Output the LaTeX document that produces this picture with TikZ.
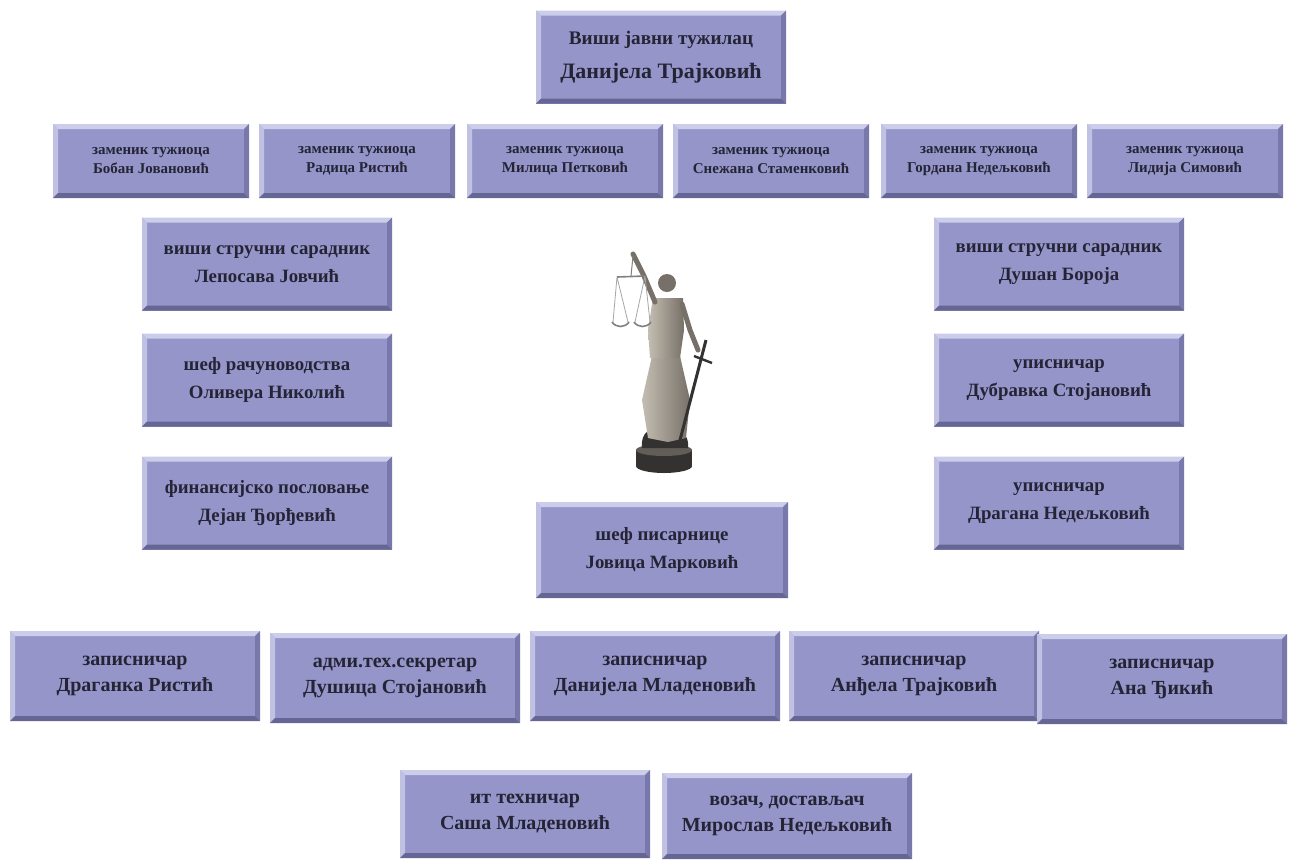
\documentclass[tikz,border=0pt]{standalone}
\usepackage{fontspec}
\setmainfont{Liberation Serif}
\definecolor{boxfill}{RGB}{149,149,201}
\definecolor{boxlight}{RGB}{204,204,235}
\definecolor{boxside}{RGB}{120,120,170}
\definecolor{boxdark}{RGB}{102,102,148}
\definecolor{boxtext}{RGB}{36,36,54}
\definecolor{statuedark}{RGB}{52,50,48}
\definecolor{statuemid}{RGB}{118,112,104}
\definecolor{statuelight}{RGB}{196,190,178}
\tikzset{
  bevbox/.style={fill=boxfill, text=boxtext, align=center, inner sep=0pt,
    font=\bfseries\fontsize{10}{13}\selectfont,
    minimum width=125pt, minimum height=46.5pt,
    path picture={
      \path (path picture bounding box.north west) coordinate (pnw)
            (path picture bounding box.north east) coordinate (pne)
            (path picture bounding box.south west) coordinate (psw)
            (path picture bounding box.south east) coordinate (pse);
      \fill[boxlight] (pnw) -- (pne) -- ([shift={(-2.5pt,-2.5pt)}]pne) -- ([shift={(2.5pt,-2.5pt)}]pnw) -- cycle;
      \fill[boxlight!80!boxfill] (pnw) -- ([shift={(2.5pt,-2.5pt)}]pnw) -- ([shift={(2.5pt,2.5pt)}]psw) -- (psw) -- cycle;
      \fill[boxside] (pne) -- (pse) -- ([shift={(-2.5pt,2.5pt)}]pse) -- ([shift={(-2.5pt,-2.5pt)}]pne) -- cycle;
      \fill[boxdark] (psw) -- (pse) -- ([shift={(-2.5pt,2.5pt)}]pse) -- ([shift={(2.5pt,2.5pt)}]psw) -- cycle;
    }},
  chiefbox/.style={bevbox, font=\bfseries\fontsize{11}{17}\selectfont},
  colbox/.style={bevbox, font=\bfseries\fontsize{9.4}{14}\selectfont},
  depbox/.style={bevbox, font=\bfseries\fontsize{7.5}{9.5}\selectfont,
    minimum width=98pt, minimum height=37pt},
  clkbox/.style={bevbox, minimum height=45pt}
}
\begin{document}
\begin{tikzpicture}[x=0.5pt,y=-0.5pt]
  \useasboundingbox[fill=white] (0,0) rectangle (1297,859);
  % tuzilac
  \node[chiefbox] (chief) at (661,57) {{\fontsize{9.6}{17}\selectfont Виши јавни тужилац}\\Данијела Трајковић};
  % zamenici
  \node[depbox] (dep1) at (151,161) {заменик тужиоца\\Бобан Јовановић};
  \node[depbox] (dep2) at (357,161) {заменик тужиоца\\Радица Ристић};
  \node[depbox] (dep3) at (565,161) {заменик тужиоца\\Милица Петковић};
  \node[depbox] (dep4) at (771,161) {заменик тужиоца\\Снежана Стаменковић};
  \node[depbox] (dep5) at (979,161) {заменик тужиоца\\Гордана Недељковић};
  \node[depbox] (dep6) at (1185,161) {заменик тужиоца\\Лидија Симовић};
  % leva kolona
  \node[colbox] (advL) at (267,264) {виши стручни сарадник\\Лепосава Јовчић};
  \node[colbox] (accL) at (267,380) {шеф рачуноводства\\Оливера Николић};
  \node[colbox] (finL) at (267,503) {финансијско пословање\\Дејан Ђорђевић};
  % desna kolona
  \node[colbox] (advR) at (1059,264) {виши стручни сарадник\\Душан Бороја};
  \node[colbox] (regA) at (1059,380) {уписничар\\Дубравка Стојановић};
  \node[colbox] (regB) at (1059,503) {уписничар\\Драгана Недељковић};
  % pisarnica
  \node[colbox, minimum width=126pt, minimum height=48pt] (office) at (662,550) {шеф писарнице\\Јовица Марковић};
  % zapisnicari
  \node[clkbox] (clk1) at (135,676) {записничар\\Драганка Ристић};
  \node[clkbox] (clk2) at (395,678) {адми.тех.секретар\\Душица Стојановић};
  \node[clkbox] (clk3) at (655,676) {записничар\\Данијела Младеновић};
  \node[clkbox] (clk4) at (914,676) {записничар\\Анђела Трајковић};
  \node[clkbox] (clk5) at (1162,679) {записничар\\Ана Ђикић};
  % tehnika
  \node[clkbox, minimum height=44pt] (itTech) at (525,814) {ит техничар\\Саша Младеновић};
  \node[clkbox, minimum height=43pt] (driver) at (787,816) {возач, достављач\\Мирослав Недељковић};
  % statua
  \fill[statuedark] (664,466) ellipse [x radius=28, y radius=7];
  \fill[statuedark] (636,450) rectangle (692,466);
  \fill[statuemid!70!statuedark] (664,450) ellipse [x radius=28, y radius=6];
  \fill[statuedark] (642,448) .. controls (640,432) and (652,426) .. (660,430)
        .. controls (672,424) and (690,430) .. (688,448) -- cycle;
  \shade[left color=statuelight, right color=statuemid] (652,356) -- (680,356) -- (690,400)
        -- (686,438) -- (668,442) -- (648,438) -- (642,400) -- cycle;
  \shade[left color=statuelight, right color=statuemid] (653,298) -- (683,298) -- (684,330)
        -- (680,358) -- (650,358) -- (648,330) -- cycle;
  \fill[statuemid] (667,283) circle [radius=9];
  \draw[statuemid, line width=2.5pt, line cap=round] (655,302) -- (644,276) -- (633,254);
  \draw[statuemid, line width=2.5pt, line cap=round] (682,304) -- (690,330) -- (698,350);
  \draw[statuedark, line width=1.5pt] (706,340) -- (679,444);
  \draw[statuedark, line width=1.2pt] (694,356) -- (712,363);
  \draw[gray, line width=0.5pt] (633,256) -- (631,276);
  \draw[gray, line width=0.8pt] (617,277) -- (645,276);
  \draw[gray!70, line width=0.4pt] (617,277) -- (613,322) (617,277) -- (628,322)
        (645,276) -- (635,322) (645,276) -- (650,322);
  \draw[gray, line width=0.8pt] (612,322) .. controls (616,328) and (625,328) .. (629,322);
  \draw[gray, line width=0.8pt] (634,322) .. controls (638,328) and (647,328) .. (651,322);
\end{tikzpicture}
\end{document}
